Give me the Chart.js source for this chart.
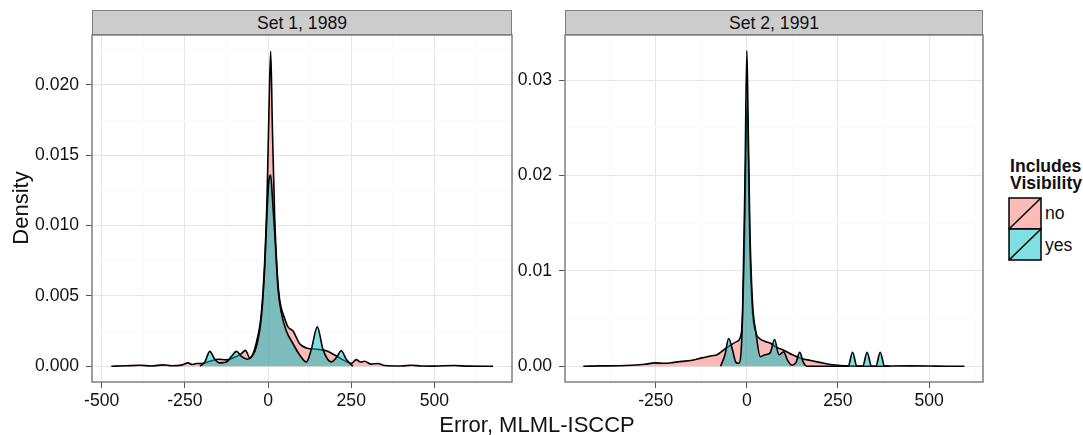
<!DOCTYPE html>
<html>
<head>
<meta charset="utf-8">
<script src="https://cdn.jsdelivr.net/npm/chart.js@4.4.0/dist/chart.umd.min.js"></script>
<style>
  body { margin: 0; background: #fff; }
  #wrap { position: relative; width: 1083px; height: 435px; font-family: "Liberation Sans", Arial, sans-serif; color: #111; }
  canvas { position: absolute; top: 0; }
  .strip { position: absolute; top: 10px; height: 25px; line-height: 25px; background: #cccccc; border: 1px solid #7f7f7f; box-sizing: border-box; text-align: center; font-size: 17.6px; }
  .txt { position: absolute; white-space: nowrap; }
</style>
</head>
<body>
<div id="wrap">
  <canvas id="panel1" width="520" height="435" style="left:0px"></canvas>
  <canvas id="panel2" width="483" height="435" style="left:515px"></canvas>
  <div class="strip" style="left:92px; width:420px;">Set 1, 1989</div>
  <div class="strip" style="left:565px; width:418px;">Set 2, 1991</div>
  <div class="txt" style="left:-19px; top:197px; width:80px; text-align:center; font-size:22px; line-height:22px; transform:rotate(-90deg);">Density</div>
  <div class="txt" style="left:437px; top:414px; width:200px; text-align:center; font-size:22px; line-height:22px;">Error, MLML-ISCCP</div>
  <div class="txt" style="left:1010px; top:158px; font-size:17.6px; line-height:17px; font-weight:bold;">Includes<br>Visibility</div>
  <svg class="txt" style="left:1008px; top:197px;" width="35" height="66">
    <rect x="1" y="1" width="32" height="31" fill="#fbbbb6" stroke="#000" stroke-width="1.5"/>
    <line x1="1" y1="32" x2="33" y2="1" stroke="#000" stroke-width="1.5"/>
    <rect x="1" y="32" width="32" height="31" fill="#80dfe1" stroke="#000" stroke-width="1.5"/>
    <line x1="1" y1="63" x2="33" y2="32" stroke="#000" stroke-width="1.5"/>
  </svg>
  <div class="txt" style="left:1045px; top:204px; font-size:17.6px; line-height:18px;">no</div>
  <div class="txt" style="left:1045px; top:236px; font-size:17.6px; line-height:18px;">yes</div>
</div>
<script>
// Set 1, 1989 - density of error, no visibility
const no1X = [-471,-430,-385,-350,-315,-290,-260,-240,-228,-215,-200,-175,-150,-125,-95,-80,-68,-55,-45,-35,-20,-10,-3,3,8,13,20,28,35,50,60,75,95,115,150,175,200,230,250,265,278,290,310,330,350,400,430,460,500,560,600,676];
const no1Y = [0,0.00003,0.00007,0.00002,0.0001,0.00003,0.00008,0.00024,0.00012,0.0002,0.0002,0.00035,0.0005,0.00045,0.0007,0.0009,0.00113,0.0006,0.0009,0.0017,0.0038,0.0075,0.012,0.0185,0.0224,0.017,0.0105,0.0065,0.0047,0.0034,0.0028,0.0025,0.0016,0.0013,0.0012,0.0011,0.0008,0.0004,0.0002,0.00047,0.0003,0.00035,0.00015,0.0002,0.00005,0.00002,0.00007,0.00002,0.00001,0.00005,0.00001,0];
// Set 1, 1989 - with visibility
const yes1X = [-205,-190,-175,-160,-145,-125,-110,-95,-80,-62,-48,-35,-20,-10,-3,3,8,13,20,30,40,55,75,95,115,130,148,165,190,205,220,235,255];
const yes1Y = [0,0.0003,0.00106,0.0005,0.00024,0.0003,0.0007,0.00106,0.0007,0.0005,0.0007,0.0014,0.0035,0.007,0.011,0.0133,0.0136,0.012,0.0095,0.0055,0.0038,0.0025,0.0016,0.0008,0.0003,0.0012,0.0028,0.0012,0.0003,0.0006,0.0011,0.0005,0];

// Set 2, 1991
const no2X = [-449,-400,-350,-316,-280,-252,-226,-200,-179,-154,-124,-108,-95,-82,-64,-45,-27,-15,-7,-2,1,4,8,15,25,35,50,65,80,100,125,150,175,200,225,250,275,300,350,400,450,500,550,597];
const no2Y = [0,0.00003,0.00005,0.0001,0.0002,0.00035,0.0003,0.0004,0.0005,0.0006,0.00087,0.001,0.0011,0.0012,0.0017,0.0022,0.0026,0.0035,0.012,0.024,0.0273,0.022,0.013,0.006,0.0035,0.0029,0.0026,0.0024,0.002,0.0017,0.0012,0.0008,0.0006,0.0004,0.0002,0.0001,0.00003,0.00001,0,0.00002,0.00003,0.00002,0,0];
const yes2X = [-72,-60,-50,-40,-30,-22,-12,-5,0,3,8,15,25,37,50,64,76,88,101,112,124,135,145,155,165,200,250,278,290,302,318,330,342,354,366,378,390];
const yes2Y = [0,0.0012,0.0029,0.0018,0.0004,0.0003,0.005,0.02,0.0331,0.027,0.015,0.007,0.0035,0.001,0.0012,0.0014,0.0028,0.0012,0.0015,0.0006,0.0001,0.0004,0.00146,0.0004,0,0,0,0,0.00146,0,0,0.00146,0,0,0.00146,0,0];

// axes
const xTicks1 = [-500,-375,-250,-125,0,125,250,375,500,625];
const xTicks2 = [-375,-250,-125,0,125,250,375,500,625];
const xMajor = [-500,-250,0,250,500];
const yTicks1 = [0,0.0025,0.005,0.0075,0.01,0.0125,0.015,0.0175,0.02,0.0225];
const yMajor1 = [0,0.005,0.01,0.015,0.02];
const yLabels1 = ['0.000','0.005','0.010','0.015','0.020'];
const yTicks2 = [0,0.005,0.01,0.015,0.02,0.025,0.03];
const yMajor2 = [0,0.01,0.02,0.03];
const yLabels2 = ['0.00','0.01','0.02','0.03'];

const NO_FILL = 'rgba(248,118,109,0.5)';
const YES_FILL = 'rgba(0,191,196,0.5)';

function toPoints(xs, ys) {
    return xs.map((x, i) => ({ x: x, y: ys[i] }));
}

function isIn(list, v) {
    return list.some(m => Math.abs(m - v) < 1e-9);
}

const panelBorder = {
    id: 'panelBorder',
    afterDatasetsDraw(chart) {
        const a = chart.chartArea;
        const ctx = chart.ctx;
        ctx.save();
        ctx.strokeStyle = '#7f7f7f';
        ctx.lineWidth = 1.5;
        ctx.strokeRect(a.left, a.top, a.right - a.left, a.bottom - a.top);
        ctx.restore();
    }
};

function makePanel(canvasId, opts) {
    const ctx = document.getElementById(canvasId).getContext('2d');
    const series = (xs, ys, fill) => ({
        data: toPoints(xs, ys),
        backgroundColor: fill,
        borderColor: '#000',
        borderWidth: 1.6,
        fill: 'origin',
        pointRadius: 0,
        cubicInterpolationMode: 'monotone'
    });
    return new Chart(ctx, {
        type: 'line',
        data: {
            // first dataset is drawn on top
            datasets: [series(opts.yesX, opts.yesY, YES_FILL), series(opts.noX, opts.noY, NO_FILL)]
        },
        options: {
            responsive: false,
            animation: false,
            layout: { padding: { top: 35, right: opts.padRight, bottom: 0, left: 0 } },
            plugins: { legend: { display: false }, tooltip: { enabled: false } },
            scales: {
                x: {
                    type: 'linear',
                    min: opts.xMin,
                    max: opts.xMax,
                    afterBuildTicks: axis => { axis.ticks = opts.xTicks.map(v => ({ value: v })); },
                    afterFit: axis => { axis.height = 53; },
                    border: { display: false },
                    grid: {
                        color: c => isIn(xMajor, c.tick.value) ? '#e5e5e5' : '#fafafa',
                        tickColor: c => isIn(xMajor, c.tick.value) ? '#555' : 'rgba(0,0,0,0)',
                        tickLength: 6,
                        lineWidth: 1
                    },
                    ticks: {
                        autoSkip: false,
                        maxRotation: 0,
                        padding: 3,
                        color: '#111',
                        font: { family: 'Liberation Sans', size: 17.6 },
                        callback: v => isIn(xMajor, v) ? String(v) : ''
                    }
                },
                y: {
                    type: 'linear',
                    min: opts.yMin,
                    max: opts.yMax,
                    afterBuildTicks: axis => { axis.ticks = opts.yTicks.map(v => ({ value: v })); },
                    afterFit: axis => { axis.width = opts.yWidth; },
                    border: { display: false },
                    grid: {
                        color: c => isIn(opts.yMajor, c.tick.value) ? '#e5e5e5' : '#fafafa',
                        tickColor: c => isIn(opts.yMajor, c.tick.value) ? '#555' : 'rgba(0,0,0,0)',
                        tickLength: 6,
                        lineWidth: 1
                    },
                    ticks: {
                        autoSkip: false,
                        padding: 7,
                        color: '#111',
                        font: { family: 'Liberation Sans', size: 17.6 },
                        callback: v => {
                            const i = opts.yMajor.findIndex(m => Math.abs(m - v) < 1e-9);
                            return i >= 0 ? opts.yLabels[i] : '';
                        }
                    }
                }
            }
        },
        plugins: [panelBorder]
    });
}

makePanel('panel1', {
    noX: no1X, noY: no1Y, yesX: yes1X, yesY: yes1Y,
    xMin: -529, xMax: 733, yMin: -0.00112, yMax: 0.02355,
    xTicks: xTicks1, yTicks: yTicks1, yMajor: yMajor1, yLabels: yLabels1,
    yWidth: 92, padRight: 8
});

makePanel('panel2', {
    noX: no2X, noY: no2Y, yesX: yes2X, yesY: yes2Y,
    xMin: -499, xMax: 648, yMin: -0.00166, yMax: 0.03475,
    xTicks: xTicks2, yTicks: yTicks2, yMajor: yMajor2, yLabels: yLabels2,
    yWidth: 50, padRight: 15
});
</script>
</body>
</html>
